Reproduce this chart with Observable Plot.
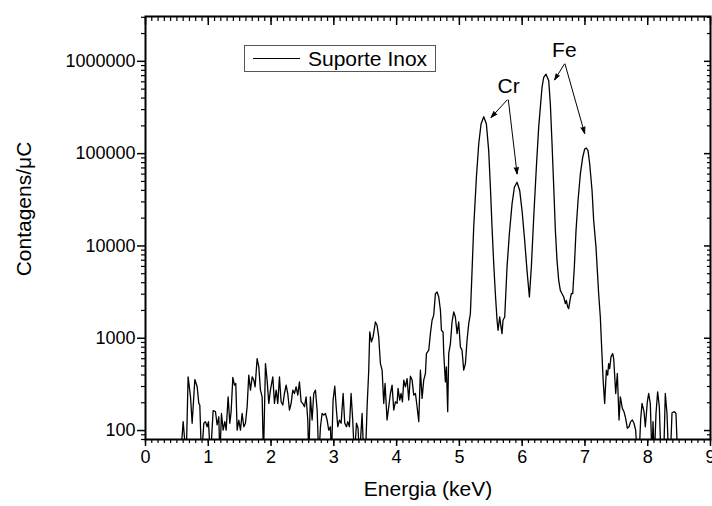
<!DOCTYPE html>
<html><head><meta charset="utf-8">
<script src="https://cdn.jsdelivr.net/npm/d3@7"></script>
<script src="https://cdn.jsdelivr.net/npm/@observablehq/plot@0.6"></script>
<style>
html,body{margin:0;padding:0;background:#fff;overflow:hidden;}
#wrap{position:relative;width:712px;height:506px;font-family:"Liberation Sans",Arial,sans-serif;}
#legend{position:absolute;left:244px;top:45px;width:192px;height:27px;border:1px solid #555;background:#fff;box-sizing:border-box;display:flex;align-items:center;font-size:21px;color:#000;}
#legend .sw{display:inline-block;width:47px;height:0;border-top:1.3px solid #000;margin-left:8px;margin-right:8px;}
</style></head><body><div id="wrap"><div id="legend"><span class="sw"></span><span>Suporte Inox</span></div></div>
<script>
const seriesName = "Suporte Inox";
const energy = [0.50,0.557,0.600,0.648,0.679,0.717,0.743,0.786,0.823,0.849,0.865,0.892,0.929,0.955,0.982,1.003,1.035,1.077,1.115,1.141,1.168,1.184,1.210,1.237,1.263,1.285,1.316,1.343,1.364,1.391,1.417,1.438,1.460,1.486,1.513,1.539,1.566,1.592,1.619,1.645,1.672,1.699,1.725,1.746,1.778,1.805,1.831,1.858,1.879,1.911,1.937,1.964,1.990,2.028,2.054,2.081,2.107,2.134,2.160,2.187,2.213,2.240,2.266,2.293,2.320,2.346,2.373,2.399,2.426,2.452,2.479,2.505,2.532,2.558,2.585,2.601,2.627,2.654,2.680,2.707,2.734,2.760,2.787,2.813,2.840,2.866,2.893,2.919,2.946,2.962,2.988,3.015,3.041,3.063,3.089,3.116,3.148,3.174,3.201,3.222,3.248,3.275,3.301,3.328,3.360,3.386,3.408,3.450,3.477,3.503,3.530,3.556,3.572,3.599,3.625,3.662,3.689,3.715,3.742,3.769,3.795,3.816,3.848,3.875,3.901,3.928,3.954,3.981,4.008,4.023,4.050,4.071,4.093,4.114,4.140,4.167,4.193,4.220,4.247,4.273,4.300,4.326,4.353,4.379,4.406,4.432,4.459,4.475,4.512,4.538,4.565,4.591,4.618,4.645,4.671,4.698,4.714,4.740,4.751,4.777,4.793,4.814,4.830,4.857,4.883,4.910,4.936,4.963,4.989,5.016,5.042,5.069,5.096,5.122,5.149,5.175,5.196,5.228,5.271,5.308,5.345,5.388,5.430,5.467,5.494,5.520,5.547,5.573,5.600,5.616,5.642,5.663,5.679,5.695,5.722,5.759,5.796,5.839,5.876,5.918,5.961,5.998,6.040,6.077,6.115,6.146,6.184,6.226,6.263,6.316,6.343,6.380,6.423,6.449,6.476,6.503,6.529,6.555,6.582,6.608,6.635,6.662,6.688,6.704,6.725,6.741,6.762,6.783,6.805,6.831,6.858,6.890,6.927,6.964,6.996,7.022,7.049,7.076,7.113,7.139,7.176,7.219,7.245,7.272,7.290,7.314,7.341,7.362,7.378,7.394,7.415,7.442,7.458,7.490,7.516,7.543,7.564,7.596,7.622,7.649,7.675,7.702,7.728,7.755,7.781,7.808,7.834,7.861,7.887,7.909,7.941,7.962,7.994,8.015,8.041,8.068,8.084,8.105,8.132,8.158,8.185,8.211,8.254,8.280,8.307,8.333,8.360,8.387,8.424,8.450,8.477];
const counts = [50,50,125,50,382,232,120,357,298,197,189,50,120,125,110,125,50,164,160,115,141,50,153,101,125,101,232,120,160,376,310,324,101,130,101,153,110,120,181,398,274,382,352,298,603,490,274,232,50,532,352,197,274,382,197,274,197,382,205,189,252,310,252,167,197,274,252,298,242,337,205,197,181,232,130,50,232,130,252,274,167,50,110,153,147,153,130,101,110,50,214,303,167,110,130,120,252,120,110,125,110,252,130,50,120,106,50,153,50,50,181,451,1171,913,1033,1500,1382,1033,532,451,197,324,130,181,252,310,167,205,197,286,214,252,205,352,298,366,214,388,352,242,252,181,125,451,223,352,415,683,742,1122,1567,1780,3040,3168,2798,2009,1220,1171,683,337,490,160,683,875,1500,1927,1701,1122,1500,806,742,451,532,951,1441,1848,4237,15980,55460,127200,209300,251200,209300,107700,43250,15980,6412,3040,1565,1221,1700,1326,1123,1565,1700,5904,13530,28570,43250,48980,39810,24200,11470,5433,2798,5904,20500,71120,192600,521200,668400,726500,615200,344300,127200,43250,14710,6970,4237,3302,3040,2798,2371,2576,2182,2094,2576,3040,3040,5904,14710,31040,60260,91200,112200,115100,107700,77300,39810,18870,9710,3000,1700,650,350,197,451,398,532,470,628,683,603,252,415,130,232,174,160,135,106,110,125,130,120,101,50,50,130,197,160,110,205,252,197,50,125,50,153,263,181,50,50,252,153,50,50,156,160,153,50];

// annotations
const labelText = ["Cr", "Fe"];
const labelE = [5.785, 6.672];
const labelC = [543000, 1320000];
const arrowE1 = [5.76, 5.78, 6.672, 6.683];
const arrowC1 = [381000, 381000, 933000, 933000];
const arrowE2 = [5.505, 5.919, 6.518, 6.995];
const arrowC2 = [246600, 60350, 631000, 165700];

// ticks
const xMajor = [0,1,2,3,4,5,6,7,8,9];
const xMinor = d3.range(0, 91).map(i => i / 10);
const yMajor = [100, 1000, 10000, 100000, 1000000];
const yMinor = [];
for (const dec of [10, 100, 1000, 10000, 100000, 1000000]) {
  for (let m = 2; m <= 9; m++) { const v = m * dec; if (v >= 80 && v <= 3000000) yMinor.push(v); }
}
const xDomain = [0, 9];
const yDomain = [80, 3060000];

const data = energy.map((e, i) => ({e, c: counts[i]}));
const labels = labelText.map((t, i) => ({t, e: labelE[i], c: labelC[i]}));
const arrows = arrowE1.map((e, i) => ({x1: e, y1: arrowC1[i], x2: arrowE2[i], y2: arrowC2[i]}));
const blank = () => "";

const chart = Plot.plot({
  width: 712, height: 506,
  marginLeft: 145, marginRight: 2, marginTop: 16, marginBottom: 67,
  style: {fontFamily: "'Liberation Sans', Arial, sans-serif", fontSize: "18px", color: "#000", background: "#fff"},
  x: {type: "linear", domain: xDomain},
  y: {type: "log", domain: yDomain},
  marks: [
    Plot.line(data, {x: "e", y: "c", stroke: "#000", strokeWidth: 1.3, clip: true, strokeLinejoin: "round"}),
    Plot.arrow(arrows, {x1: "x1", y1: "y1", x2: "x2", y2: "y2", stroke: "#000", fill: "#000", strokeWidth: 1, headLength: 10, headAngle: 36}),
    Plot.text(labels, {x: "e", y: "c", text: "t", fontSize: 21, fill: "#000"}),
    Plot.axisX(xMinor, {anchor: "bottom", tickSize: 4, tickFormat: blank, label: null, strokeWidth: 1.2}),
    Plot.axisX(xMajor, {anchor: "bottom", tickSize: 7, tickPadding: 4, tickFormat: d => String(d), label: null, strokeWidth: 1.5, fontSize: 18}),
    Plot.axisX(xMinor, {anchor: "top", tickSize: 4, dy: 4, tickFormat: blank, label: null, strokeWidth: 1.2}),
    Plot.axisX(xMajor, {anchor: "top", tickSize: 8, dy: 8, tickFormat: blank, label: null, strokeWidth: 1.5}),
    Plot.axisY(yMinor, {anchor: "left", tickSize: 4, tickFormat: blank, label: null, strokeWidth: 1.2}),
    Plot.axisY(yMajor, {anchor: "left", tickSize: 8, tickPadding: 2, tickFormat: d3.format("d"), label: null, strokeWidth: 1.5, fontSize: 18}),
    Plot.axisY(yMinor, {anchor: "right", tickSize: 4, dx: -4, tickFormat: blank, label: null, strokeWidth: 1.2}),
    Plot.axisY(yMajor, {anchor: "right", tickSize: 7, dx: -7, tickFormat: blank, label: null, strokeWidth: 1.5}),
    Plot.frame({stroke: "#000", strokeWidth: 2}),
    Plot.text(["Energia (keV)"], {frameAnchor: "bottom", dy: 56, fontSize: 21, fill: "#000", textAnchor: "middle"}),
    Plot.text(["Contagens/\u03bcC"], {frameAnchor: "left", dx: -121, dy: -19, rotate: -90, fontSize: 21, fill: "#000", textAnchor: "middle", lineAnchor: "middle"})
  ]
});
const wrap = document.getElementById("wrap");
wrap.insertBefore(chart, wrap.firstChild);
</script>
</body></html>
